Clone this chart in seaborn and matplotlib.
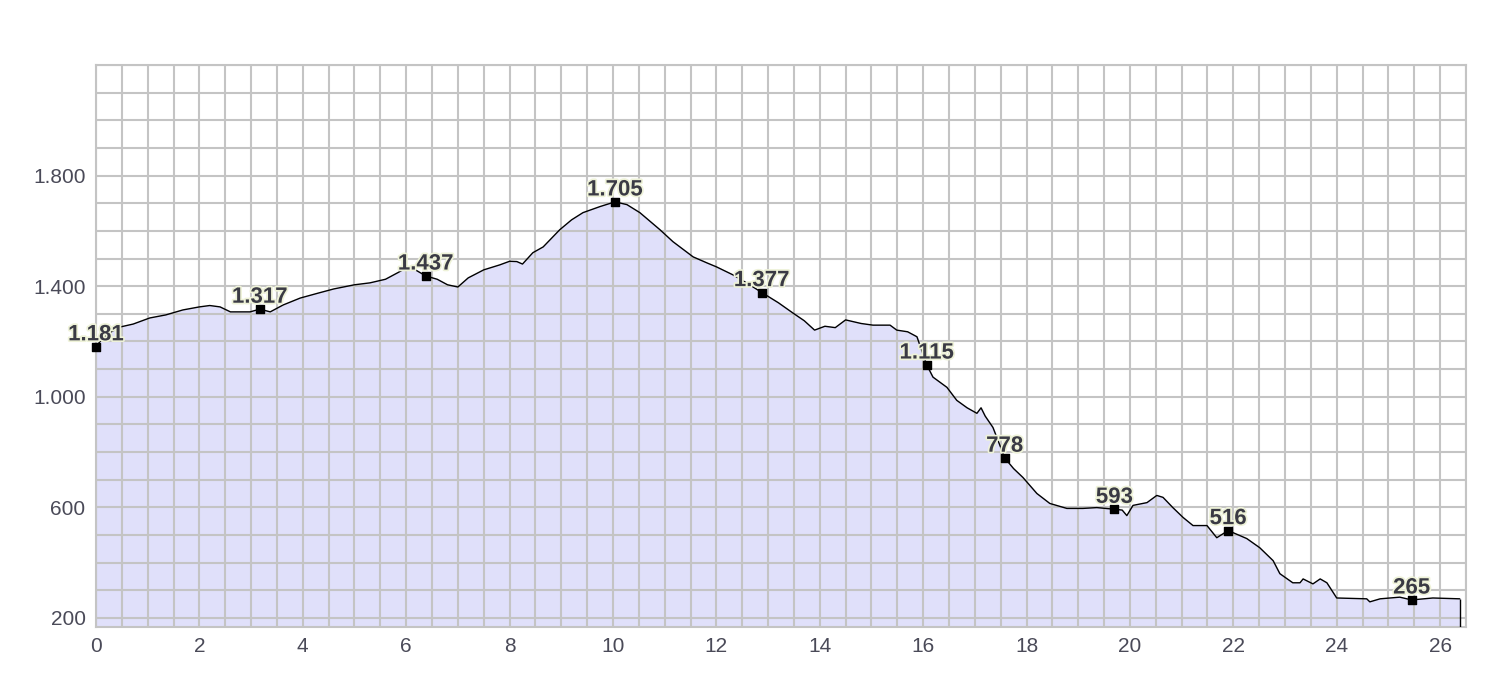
import matplotlib
matplotlib.use("Agg")
import matplotlib.pyplot as plt
import matplotlib.patheffects as pe
from matplotlib.ticker import MultipleLocator, FixedLocator, FuncFormatter
import pandas as pd
import seaborn as sns

# profile: distance (km) and elevation (m)
dist = [0.0, 0.1, 0.25, 0.46, 0.72, 1.04, 1.35, 1.68, 2.0, 2.2, 2.4, 2.6, 2.98, 3.17, 3.37,
        3.62, 3.95, 4.3, 4.6, 5.0, 5.3, 5.6, 5.85, 6.0, 6.15, 6.38, 6.6, 6.8, 7.0, 7.2,
        7.5, 7.81, 8.0, 8.14, 8.25, 8.45, 8.65, 8.97, 9.2, 9.42, 9.75, 10.04, 10.27, 10.52,
        10.91, 11.16, 11.55, 11.82, 12.0, 12.32, 12.6, 12.88, 13.2, 13.48, 13.7, 13.9, 14.1,
        14.3, 14.5, 14.8, 15.03, 15.36, 15.49, 15.7, 15.88, 16.07, 16.19, 16.46, 16.65, 16.85,
        17.04, 17.12, 17.2, 17.35, 17.58, 17.75, 17.93, 18.2, 18.45, 18.78, 19.09, 19.36,
        19.7, 19.85, 19.94, 20.06, 20.33, 20.52, 20.64, 20.83, 21.03, 21.22, 21.49, 21.68,
        21.9, 22.26, 22.51, 22.77, 22.9, 23.15, 23.29, 23.35, 23.54, 23.68, 23.81, 24.0,
        24.58, 24.64, 24.84, 25.22, 25.45, 25.86, 26.38]
elev = [1181, 1205, 1230, 1252, 1263, 1285, 1296, 1314, 1325, 1330, 1325, 1307, 1307, 1317, 1307,
        1332, 1357, 1375, 1390, 1405, 1412, 1425, 1450, 1466, 1462, 1437, 1425, 1405, 1397, 1430,
        1459, 1477, 1490, 1489, 1480, 1521, 1542, 1604, 1640, 1666, 1688, 1705, 1695, 1666,
        1604, 1561, 1506, 1484, 1470, 1441, 1410, 1377, 1340, 1303, 1275, 1241, 1255,
        1250, 1278, 1265, 1259, 1259, 1241, 1235, 1217, 1115, 1071, 1034, 987, 960,
        940, 960, 930, 889, 778, 740, 708, 650, 614, 596, 596, 599,
        593, 590, 570, 607, 617, 643, 636, 599, 563, 534, 534, 490,
        516, 487, 454, 407, 360, 327, 327, 341, 323, 341, 327, 272,
        269, 258, 269, 275, 265, 272, 269]

# labelled waypoints
wp_dist = [0.0, 3.17, 6.38, 10.04, 12.88, 16.07, 17.58, 19.7, 21.9, 25.45]
wp_elev = [1181, 1317, 1437, 1705, 1377, 1115, 778, 593, 516, 265]

y_ticks = [200, 600, 1000, 1400, 1800]

df = pd.DataFrame({"km": dist, "m": elev})
y_bottom = 167

sns.set_style("white")
plt.rcParams["font.family"] = ["Liberation Sans", "DejaVu Sans"]

fig = plt.figure(figsize=(15, 6.78), dpi=100)
ax = fig.add_axes([0.064, 0.0752, 0.9133, 0.8289])

ax.fill_between(df["km"], df["m"], y_bottom, color="#e0e0fa", zorder=1)
sns.lineplot(data=df, x="km", y="m", ax=ax, color="black", linewidth=1.0, zorder=3)
ax.vlines(dist[-1], y_bottom, elev[-1], color="black", linewidth=1.0, zorder=3)

ax.set_xlim(0, 26.5)
ax.set_ylim(y_bottom, 2200)
ax.xaxis.set_major_locator(MultipleLocator(2))
ax.xaxis.set_minor_locator(MultipleLocator(0.5))
ax.yaxis.set_major_locator(FixedLocator(y_ticks))
ax.yaxis.set_minor_locator(MultipleLocator(100))
ax.yaxis.set_major_formatter(FuncFormatter(lambda v, p: f"{int(v):,}".replace(",", ".")))
ax.grid(True, which="both", color="#c4c4c4", linewidth=1.5)
ax.set_axisbelow(False)  # grid over the fill, under the profile line
ax.tick_params(which="major", length=4, color="#555555", labelsize=15,
               labelcolor="#4a4a58", direction="out", width=1)
ax.tick_params(which="minor", length=0)
ax.set_xlabel("")
ax.set_ylabel("")
for s in ax.spines.values():
    s.set_color("#c4c4c4")
    s.set_linewidth(1.5)

ax.scatter(wp_dist, wp_elev, marker="s", s=40, color="black", zorder=5, clip_on=False)
for d, e in zip(wp_dist, wp_elev):
    ax.annotate(f"{e:,}".replace(",", "."), (d, e), xytext=(0, 1), textcoords="offset points",
                ha="center", va="bottom", fontsize=16, fontweight="bold", color="#3a3a44",
                zorder=6,
                path_effects=[pe.withStroke(linewidth=2.5, foreground="#eef2d8")])

fig.savefig("out.png", dpi=100)
